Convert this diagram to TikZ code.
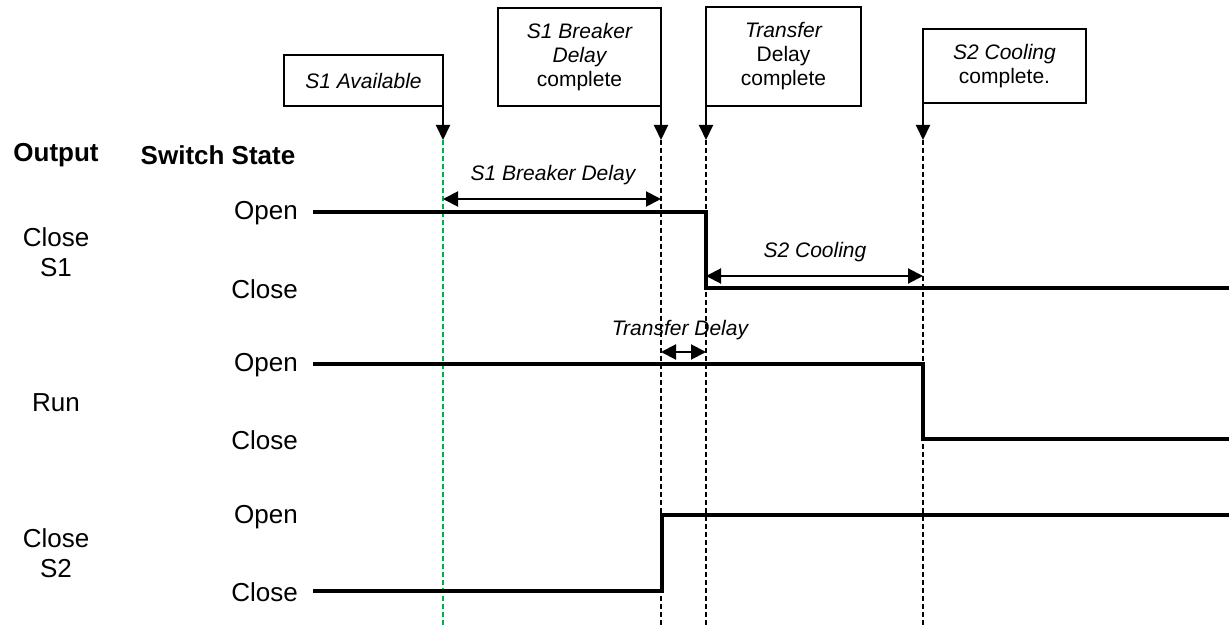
\documentclass[tikz,border=0pt]{standalone}
\usepackage{fontspec}
\setmainfont{Liberation Sans}
\usetikzlibrary{arrows.meta}
\definecolor{evgreen}{RGB}{0,176,80}
\begin{document}
\begin{tikzpicture}[x=1pt,y=-1pt,
  wave/.style={line width=4pt},
  evline/.style={line width=1.6pt, dash pattern=on 5pt off 3pt},
  callout/.style={draw, line width=2pt, align=center, inner sep=0pt, outer sep=0pt, anchor=north west, font=\fontsize{21}{24}\selectfont},
  calarrow/.style={line width=2pt, -{Triangle[length=15pt,width=14pt]}},
  dimarrow/.style={line width=2pt, {Triangle[length=15pt,width=15pt]}-{Triangle[length=15pt,width=15pt]}},
  dimlabel/.style={inner sep=0pt, font=\fontsize{21}{24}\selectfont\itshape},
  lbl/.style={inner sep=0pt, font=\fontsize{26}{30}\selectfont, align=center},
  state/.style={inner sep=0pt, font=\fontsize{26}{30}\selectfont, anchor=east},
  hdr/.style={inner sep=0pt, font=\fontsize{26}{30}\selectfont\bfseries}]
\useasboundingbox (0,0) rectangle (1229,628);

% callout boxes
\node[callout, minimum width=159pt, minimum height=51pt] (b1) at (284,55) {\itshape S1 Available};
\node[callout, minimum width=163pt, minimum height=98pt] (b2) at (498,8) {\itshape S1 Breaker\\\itshape Delay\\complete};
\node[callout, minimum width=155pt, minimum height=99pt] (b3) at (706,7) {\itshape Transfer\\Delay\\complete};
\node[callout, minimum width=163pt, minimum height=74pt] (b4) at (923,29) {\itshape S2 Cooling\\complete.};

% event points
\coordinate (e1) at (443,140);
\coordinate (e2) at (661,140);
\coordinate (e3) at (706,140);
\coordinate (e4) at (923,140);
\coordinate (f1) at (443,628);
\coordinate (f2) at (661,628);
\coordinate (f3) at (706,628);
\coordinate (f4) at (923,628);

\draw[calarrow] (b1.south east) -- (e1);
\draw[calarrow] (b2.south east) -- (e2);
\draw[calarrow] (b3.south west) -- (e3);
\draw[calarrow] (b4.south west) -- (e4);

\draw[evline, evgreen] (e1) -- (f1);
\draw[evline] (e2) -- (f2);
\draw[evline] (e3) -- (f3);
\draw[evline] (e4) -- (f4);

% headers and labels
\node[hdr] (hout) at (56,155) {Output};
\node[hdr] (hsw) at (218,155) {Switch State};
\node[lbl] (o1) at (56,252) {Close\\S1};
\node[lbl] (o2) at (56,403) {Run};
\node[lbl] (o3) at (56,553) {Close\\S2};
\node[state] (s1o) at (298,213) {Open};
\node[state] (s1c) at (298,289) {Close};
\node[state] (s2o) at (298,365) {Open};
\node[state] (s2c) at (298,440) {Close};
\node[state] (s3o) at (298,517) {Open};
\node[state] (s3c) at (298,592) {Close};

% waveforms
\draw[wave] (313,212) -- (706,212) -- (706,288) -- (1229,288);
\draw[wave] (313,364) -- (923,364) -- (923,439) -- (1229,439);
\draw[wave] (313,591) -- (662,591) -- (662,515) -- (1229,515);

% dimension arrows
\coordinate (d1a) at (443,199);
\coordinate (d1b) at (661,199);
\coordinate (d2a) at (706,276);
\coordinate (d2b) at (923,276);
\coordinate (d3a) at (661,352);
\coordinate (d3b) at (706,352);
\draw[dimarrow] (d1a) -- (d1b);
\draw[dimarrow] (d2a) -- (d2b);
\draw[dimarrow] (d3a) -- (d3b);
\node[dimlabel] (l1) at (553,175) {S1 Breaker Delay};
\node[dimlabel] (l2) at (815,252) {S2 Cooling};
\node[dimlabel] (l3) at (680,330) {Transfer Delay};
\end{tikzpicture}
\end{document}
